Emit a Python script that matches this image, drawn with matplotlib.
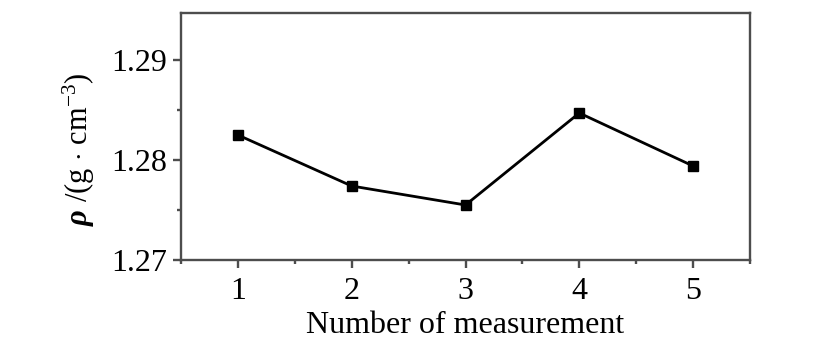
import matplotlib
matplotlib.use('Agg')
import matplotlib.pyplot as plt
from matplotlib.ticker import MultipleLocator, FormatStrFormatter

measurement = [1, 2, 3, 4, 5]
density = [1.2825, 1.2774, 1.2755, 1.2847, 1.2794]

plt.rcParams['font.family'] = 'Liberation Serif'
plt.rcParams['mathtext.fontset'] = 'custom'
plt.rcParams['mathtext.rm'] = 'Liberation Serif'
plt.rcParams['mathtext.it'] = 'Liberation Serif:italic'
plt.rcParams['mathtext.bf'] = 'Liberation Serif:bold:italic'

fig = plt.figure(figsize=(8.24, 3.4), dpi=100)
ax = fig.add_axes([181/824, 1 - 260/340, (750 - 181)/824, (260 - 13)/340])

ax.plot(measurement, density, color='black', linewidth=2.0,
        marker='s', markersize=7.5, markerfacecolor='black', markeredgecolor='black')

ax.set_xlim(0.5, 5.5)
ax.set_ylim(1.27, 1.2947)
ax.xaxis.set_major_locator(MultipleLocator(1))
ax.xaxis.set_minor_locator(MultipleLocator(0.5))
ax.yaxis.set_major_locator(MultipleLocator(0.01))
ax.yaxis.set_minor_locator(MultipleLocator(0.005))
ax.yaxis.set_major_formatter(FormatStrFormatter('%.2f'))

for s in ax.spines.values():
    s.set_color('#4d4d4d')
    s.set_linewidth(1.7)

ax.tick_params(which='major', direction='out', length=6, width=1.7, color='#4d4d4d',
               labelsize=23, pad=4)
ax.tick_params(which='minor', direction='out', length=3, width=1.7, color='#4d4d4d')
ax.tick_params(axis='x', which='major', pad=6)

ax.set_xlabel('Number of measurement', fontsize=23, labelpad=4)
ax.set_ylabel(r'$\mathbf{\rho}$ /(g $\cdot$ cm$^{-3}$)', fontsize=22)
ax.yaxis.set_label_coords(-0.148, 0.45)

fig.savefig('out.png', dpi=100)
